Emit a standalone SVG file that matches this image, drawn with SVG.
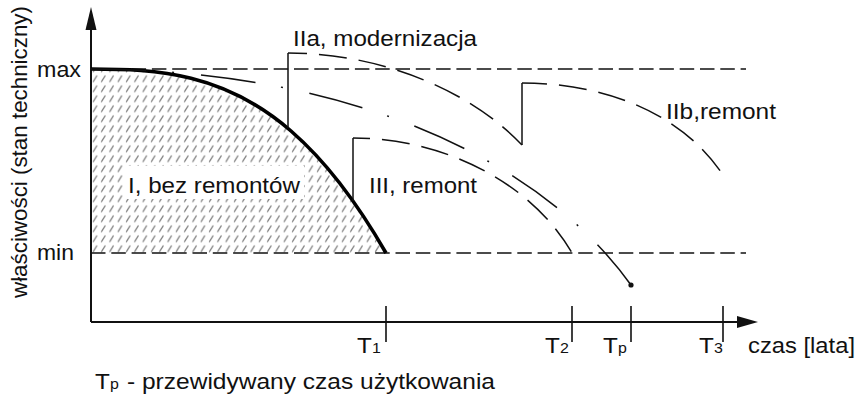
<svg xmlns="http://www.w3.org/2000/svg" width="856" height="396" viewBox="0 0 856 396">
<style>
text{font-family:"Liberation Sans",Arial,sans-serif;fill:#111;font-size:21.5px}
.sub{font-size:14.5px}
.ax{stroke:#111;stroke-width:2;fill:none}
.tick{stroke:#111;stroke-width:1.6;fill:none}
.lim{stroke:#111;stroke-width:1.6;fill:none;stroke-dasharray:14.5 5.8}
.dash{stroke:#111;stroke-width:1.5;fill:none;stroke-dasharray:28 12}
.dd{stroke:#111;stroke-width:1.5;fill:none;stroke-dasharray:55 26 2 27}
.solid{stroke:#111;stroke-width:1.5;fill:none}
</style>
<defs>
<pattern id="hatch" patternUnits="userSpaceOnUse" x="91" y="3.5" width="8.3" height="10">
<line x1="2" y1="8.5" x2="6" y2="2" stroke="#666" stroke-width="1.1"/>
</pattern>
<clipPath id="areaI">
<path d="M91,69 C157.7,69 224.3,73.1 291,131 C322.7,158.5 354.3,197.7 386,253 L91,253 Z"/>
</clipPath>
</defs>
<rect width="856" height="396" fill="#fff"/>
<g id="hatch-area">
<rect x="91" y="60" width="300" height="200" fill="url(#hatch)" clip-path="url(#areaI)"/>
<rect x="124" y="166" width="180" height="33" fill="#fff"/>
</g>
<g id="axes">
<path class="ax" d="M91,322 V28"/>
<path d="M85.5,30 L91,7 L96.5,30 Z" fill="#111"/>
<path class="ax" d="M91,322 H740"/>
<path d="M737,316 L758,322 L737,328 Z" fill="#111"/>
<path class="tick" d="M386,306 V342 M572,306 V342 M631,306 V342 M723,306 V342"/>
</g>
<g id="limits">
<path class="lim" d="M91,69 H746"/>
<path class="lim" d="M91,253 H746"/>
</g>
<g id="connectors">
<path id="curve-I" d="M91,69 C157.7,69 224.3,73.1 291,131 C322.7,158.5 354.3,197.7 386,253" stroke="#000" stroke-width="3.6" fill="none"/>
<path class="solid" d="M288,128 V53"/>
<path class="dash" style="stroke-dashoffset:9" d="M288,53 C380,53 470,90 522,145"/>
<path class="solid" d="M522,145 V83"/>
<path class="dash" style="stroke-dashoffset:3" d="M522,83 C600,83 680,110 723,175"/>
<path class="solid" d="M353,201 V138"/>
<path class="dash" style="stroke-dashoffset:11" d="M353,138 C440,138 530,180 572,253"/>
<path class="dd" d="M91,69 C360,70 545,165 631,285"/>
<circle cx="631" cy="285" r="2.6" fill="#111"/>
</g>
<g id="labels">
<text x="37" y="77" textLength="44" lengthAdjust="spacingAndGlyphs">max</text>
<text x="37" y="260" textLength="37" lengthAdjust="spacingAndGlyphs">min</text>
<text transform="translate(27 152) rotate(-90)" text-anchor="middle" textLength="292" lengthAdjust="spacingAndGlyphs" font-size="22">właściwości (stan techniczny)</text>
<text x="293" y="46" textLength="184" lengthAdjust="spacingAndGlyphs">IIa, modernizacja</text>
<text x="128" y="193" textLength="172" lengthAdjust="spacingAndGlyphs">I, bez remontów</text>
<text x="369" y="193" textLength="108" lengthAdjust="spacingAndGlyphs">III, remont</text>
<text x="666" y="119" textLength="110" lengthAdjust="spacingAndGlyphs">IIb,remont</text>
<text x="748" y="353" textLength="107" lengthAdjust="spacingAndGlyphs">czas [lata]</text>
<text transform="translate(357 353) scale(1.13 1)">T</text><text class="sub" transform="translate(372 353) scale(1.1 1)">1</text>
<text transform="translate(545 353) scale(1.13 1)">T</text><text class="sub" transform="translate(560 353) scale(1.1 1)">2</text>
<text transform="translate(603 353) scale(1.13 1)">T</text><text class="sub" transform="translate(618 353) scale(1.1 1)">p</text>
<text transform="translate(699 353) scale(1.13 1)">T</text><text class="sub" transform="translate(714 353) scale(1.1 1)">3</text>
<text transform="translate(95 389) scale(1.13 1)">T</text><text class="sub" transform="translate(110 389) scale(1.1 1)">p</text>
<text x="127" y="389" textLength="368" lengthAdjust="spacingAndGlyphs">- przewidywany czas użytkowania</text>
</g>
</svg>
